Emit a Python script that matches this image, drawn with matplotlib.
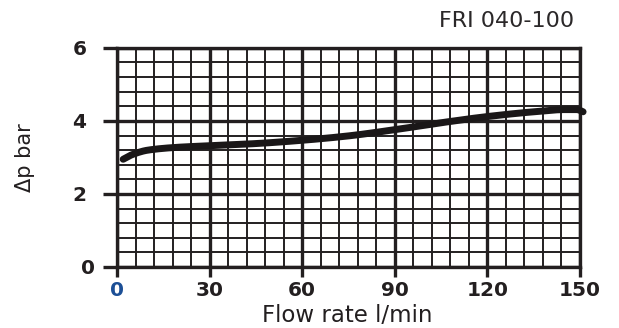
import matplotlib
matplotlib.use("Agg")
import matplotlib.pyplot as plt
import matplotlib.transforms as mtransforms
import numpy as np

flow = [2, 5, 10, 20, 30, 45, 60, 75, 90, 105, 120, 135, 145, 149, 151]
dp = [2.95, 3.08, 3.20, 3.28, 3.32, 3.38, 3.47, 3.59, 3.76, 3.95, 4.12, 4.25, 4.31, 4.31, 4.25]
xticks = [0, 30, 60, 90, 120, 150]
yticks = [0, 2, 4, 6]
title = "FRI 040-100"

fig = plt.figure(figsize=(6.19, 3.28), dpi=100)
ax = fig.add_axes([0.189, 0.186, 0.748, 0.668])
ax.set_xlim(0, 150)
ax.set_ylim(0, 6)

gc = "#231f20"
for x in np.arange(0, 151, 6):
    lw = 2.4 if x % 30 == 0 else 1.4
    ax.axvline(x, color=gc, lw=lw, zorder=1)
for y in np.arange(0, 6.01, 0.4):
    lw = 2.4 if abs(y - round(y / 2) * 2) < 1e-6 else 1.4
    ax.axhline(y, color=gc, lw=lw, zorder=1)

for s in ax.spines.values():
    s.set_color(gc)
    s.set_linewidth(2.4)

def pchip(x, y, xn):
    x = np.asarray(x, float); y = np.asarray(y, float)
    h = np.diff(x); d = np.diff(y) / h
    m = np.zeros_like(y)
    for k in range(1, len(y) - 1):
        if d[k-1] * d[k] > 0:
            w1 = 2*h[k] + h[k-1]; w2 = h[k] + 2*h[k-1]
            m[k] = (w1 + w2) / (w1/d[k-1] + w2/d[k])
    m[0] = d[0]; m[-1] = d[-1]
    out = np.empty_like(xn)
    for i, xv in enumerate(xn):
        k = min(max(np.searchsorted(x, xv) - 1, 0), len(x) - 2)
        t = (xv - x[k]) / h[k]
        h00 = 2*t**3 - 3*t**2 + 1; h10 = t**3 - 2*t**2 + t
        h01 = -2*t**3 + 3*t**2; h11 = t**3 - t**2
        out[i] = h00*y[k] + h10*h[k]*m[k] + h01*y[k+1] + h11*h[k]*m[k+1]
    return out

xs = np.linspace(flow[0], flow[-1], 300)
ys = pchip(flow, dp, xs)
ax.plot(xs, ys, color="#1a1718", lw=5, solid_capstyle="round", zorder=3, clip_on=False)

ax.set_xticks(xticks)
ax.set_yticks(yticks)
ax.tick_params(axis="x", direction="out", length=7, width=2.4, color=gc, pad=3)
ax.tick_params(axis="y", direction="out", length=10, width=2.4, color=gc, pad=12)
ax.set_xticklabels([str(v) for v in xticks], fontsize=14.5, fontweight="bold", color=gc)
ax.set_yticklabels([str(v) for v in yticks], fontsize=14.5, fontweight="bold", color=gc)
ax.get_xticklabels()[0].set_color("#1c4f96")
# the "0" y label sits closer to the axis in the reference
lab0 = ax.get_yticklabels()[0]
lab0.set_transform(lab0.get_transform() + mtransforms.ScaledTranslation(9/100, 0, fig.dpi_scale_trans))

fig.text(347/619, 1 - 322/328, "Flow rate l/min", fontsize=16.5, color=gc, ha="center", va="baseline")
fig.text(25/619, 1 - 158/328, "Δp bar", fontsize=15, color=gc, ha="center", va="center", rotation=90)
fig.text(574/619, 1 - 21/328, title, fontsize=16, color="#2b2829", ha="right", va="center")

fig.savefig("out.png", dpi=100)
